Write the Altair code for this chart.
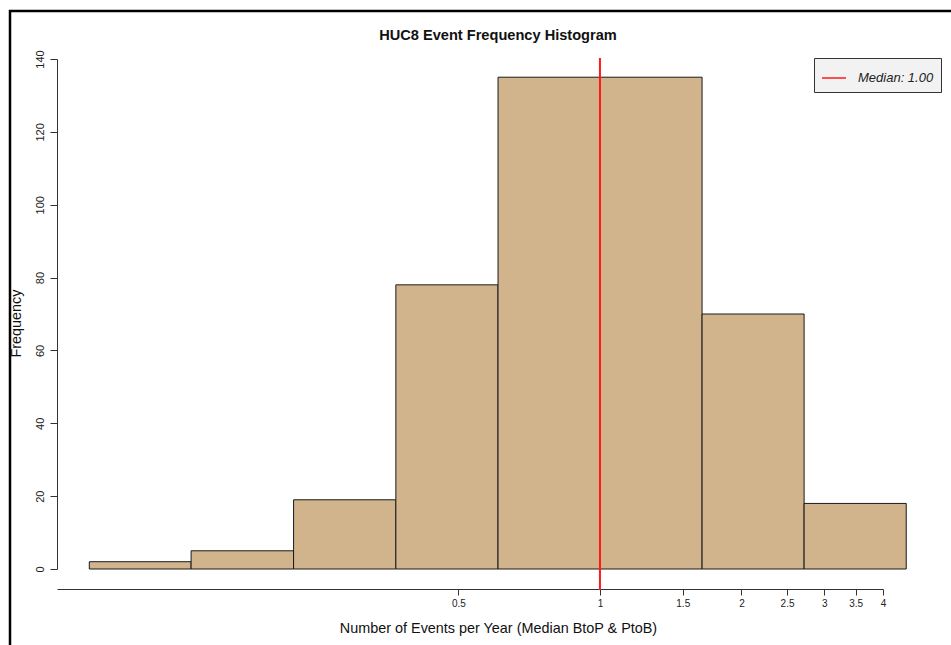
import altair as alt
import pandas as pd

# Histogram bins (log-spaced edges) and counts
bin_lo = [0.082, 0.135, 0.223, 0.368, 0.607, 1.0, 1.649, 2.718]
bin_hi = [0.135, 0.223, 0.368, 0.607, 1.0, 1.649, 2.718, 4.482]
counts = [2, 5, 19, 78, 135, 135, 70, 18]

x_ticks = [0.5, 1, 1.5, 2, 2.5, 3, 3.5, 4]
y_ticks = [0, 20, 40, 60, 80, 100, 120, 140]

median_value = [1.0]
median_label = ["Median: 1.00"]

chart_title = ["HUC8 Event Frequency Histogram"]

FONT = "Liberation Sans"

bars_df = pd.DataFrame({"lo": bin_lo, "hi": bin_hi, "count": counts})
med_df = pd.DataFrame({"median": median_value, "label": median_label})
frame_df = pd.DataFrame({"a": [0]})
title_df = pd.DataFrame({"t": chart_title})

x_scale = alt.Scale(type="log", domain=[0.07, 4], nice=False, zero=False)
x_axis = alt.Axis(
    values=x_ticks, format="~g", grid=False, offset=20, tickSize=6,
    domainColor="#333333", tickColor="#333333", labelColor="#222222",
    labelFont=FONT, labelFontSize=10, labelPadding=3, labelFlush=False,
    labelOverlap=False,
    title="Number of Events per Year (Median BtoP & PtoB)",
    titleFont=FONT, titleFontSize=14.4, titleFontWeight="normal",
    titleColor="#111111", titleX=441, titleY=39, titleAlign="center",
    titleBaseline="middle", titleAnchor="middle",
)
y_scale = alt.Scale(domain=[0, 140], nice=False)
y_axis = alt.Axis(
    values=y_ticks, grid=False, tickSize=7, domainColor="#333333",
    tickColor="#333333", labelColor="#222222", labelFont=FONT,
    labelFontSize=11, labelAngle=270, labelAlign="center",
    labelBaseline="bottom", labelPadding=5, labelFlush=False,
    title="Frequency", titleFont=FONT, titleFontSize=14.4,
    titleFontWeight="normal", titleColor="#111111", titleAngle=270,
    titleX=-41, titleY=264, titleAlign="center", titleBaseline="middle",
)

frame = alt.Chart(frame_df).mark_rect(
    filled=False, stroke="black", strokeWidth=2.5
).encode(
    x=alt.value(-47), x2=alt.value(1000), y=alt.value(-48), y2=alt.value(700)
)

title_text = alt.Chart(title_df).mark_text(
    font=FONT, fontSize=14.6, fontWeight="bold", color="#111111",
    align="center", baseline="middle"
).encode(
    x=alt.value(441), y=alt.value(-23), text="t:N"
)

bars = alt.Chart(bars_df).mark_rect(
    fill="#D2B48C", stroke="#1a1a1a", strokeWidth=1
).encode(
    x=alt.X("lo:Q", scale=x_scale, axis=x_axis),
    x2="hi:Q",
    y=alt.Y("count:Q", scale=y_scale, axis=y_axis),
    y2=alt.datum(0),
)

rule = alt.Chart(med_df).mark_rule(strokeWidth=2).encode(
    x=alt.X("median:Q", scale=x_scale, axis=x_axis),
    y=alt.value(-1),
    y2=alt.value(531),
    color=alt.Color(
        "label:N",
        scale=alt.Scale(domain=median_label, range=["#ff1a1a"]),
        legend=alt.Legend(
            title=None, orient="none", legendX=757, legendY=-1,
            fillColor="#f2f2f2", strokeColor="#333333", padding=7,
            symbolType="stroke", symbolSize=576, symbolStrokeWidth=1.5,
            labelFont=FONT, labelFontSize=13, labelFontStyle="italic",
            labelColor="#222222", labelOffset=11, cornerRadius=0,
        ),
    ),
)

chart = alt.layer(frame, title_text, bars, rule).properties(
    width=826,
    height=510,
    background="white",
    autosize=alt.AutoSizeParams(type="none"),
    padding={"left": 57, "top": 59, "right": 68, "bottom": 76},
).configure_view(stroke=None)

chart.save("out.html", embed_options={"renderer": "svg", "actions": False})
